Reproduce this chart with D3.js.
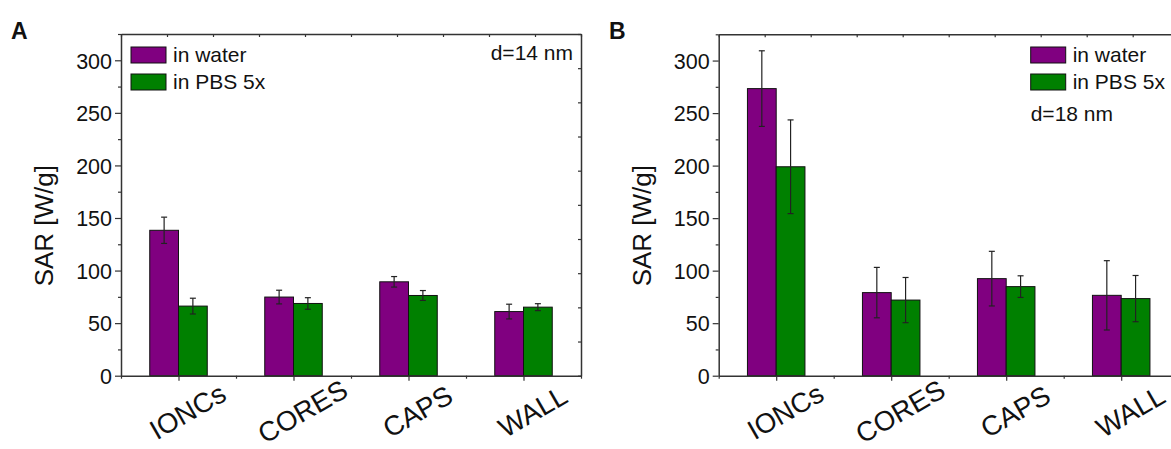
<!DOCTYPE html>
<html>
<head>
<meta charset="utf-8">
<script src="https://cdn.jsdelivr.net/npm/d3@7"></script>
<style>
  body { margin: 0; background: #fff; }
  svg text { font-family: "Liberation Sans", Arial, sans-serif; fill: #111; }
</style>
</head>
<body>
<div id="chart"></div>
<script>
var W = 1171, H = 449;

// data
var categories = ["IONCs", "CORES", "CAPS", "WALL"];
var seriesNames = ["in water", "in PBS 5x"];
var colors = ["#800080", "#008000"];
var yTicks = [0, 50, 100, 150, 200, 250, 300];

// panel A, d=14 nm
var waterA = [138.3, 74.8, 89.3, 61.0];
var waterErrA = [12.5, 6.5, 5.0, 7.0];
var pbsA = [66.2, 68.7, 76.3, 65.2];
var pbsErrA = [7.5, 5.5, 4.7, 3.3];

// panel B, d=18 nm
var waterB = [273.3, 79.1, 92.4, 76.5];
var waterErrB = [36, 24, 26, 33];
var pbsB = [198.9, 72.0, 84.8, 73.4];
var pbsErrB = [44.6, 21.5, 10.3, 22];

var svg = d3.select("#chart").append("svg")
  .attr("width", W)
  .attr("height", H);

function drawPanel(p) {
  var g = svg.append("g");
  var x0 = p.left, x1 = p.left + 460, y0 = p.bottom, y1 = p.top;

  // numeric x: categories at 1..4, frame from 0.5 to 4.5
  var xScale = d3.scaleLinear().domain([0.5, 4.5]).range([x0, x1]);
  var yScale = d3.scaleLinear().domain([0, 325]).range([y0, y1]);

  var rows = categories.map(function(c, i) {
    return [
      { cat: i + 1, s: 0, v: p.water[i], e: p.waterErr[i] },
      { cat: i + 1, s: 1, v: p.pbs[i], e: p.pbsErr[i] }
    ];
  });
  var bars = [].concat.apply([], rows);
  var bw = 0.25;

  g.selectAll("rect.bar")
    .data(bars)
    .enter().append("rect")
      .attr("class", "bar")
      .attr("x", function(d) { return xScale(d.cat - bw + d.s * bw); })
      .attr("width", function() { return xScale(0.5 + bw) - xScale(0.5); })
      .attr("y", function(d) { return yScale(d.v); })
      .attr("height", function(d) { return yScale(0) - yScale(d.v); })
      .style("fill", function(d) { return colors[d.s]; })
      .style("stroke", "#111")
      .style("stroke-width", 1);

  // error bars
  var err = g.selectAll("g.err")
    .data(bars)
    .enter().append("g")
      .attr("class", "err")
      .style("stroke", "#222")
      .style("stroke-width", 1.2);
  err.append("line")
    .attr("x1", function(d) { return xScale(d.cat - bw / 2 + d.s * bw); })
    .attr("x2", function(d) { return xScale(d.cat - bw / 2 + d.s * bw); })
    .attr("y1", function(d) { return yScale(d.v - d.e); })
    .attr("y2", function(d) { return yScale(d.v + d.e); });
  [-1, 1].forEach(function(sgn) {
    err.append("line")
      .attr("x1", function(d) { return xScale(d.cat - bw / 2 + d.s * bw) - 3; })
      .attr("x2", function(d) { return xScale(d.cat - bw / 2 + d.s * bw) + 3; })
      .attr("y1", function(d) { return yScale(d.v + sgn * d.e); })
      .attr("y2", function(d) { return yScale(d.v + sgn * d.e); });
  });

  // left axis, major and minor
  var yAxis = d3.axisLeft(yScale)
    .tickValues(yTicks)
    .tickSize(6)
    .tickPadding(3)
    .tickSizeOuter(0);
  var ya = g.append("g")
    .attr("transform", "translate(" + x0 + ",0)")
    .call(yAxis);
  ya.selectAll("text").style("font-size", "21.5px").attr("dy", "0.36em");
  g.append("g")
    .attr("transform", "translate(" + x0 + ",0)")
    .call(d3.axisLeft(yScale).tickValues([25, 75, 125, 175, 225, 275, 325]).tickSize(3).tickFormat("").tickSizeOuter(0))
    .select(".domain").remove();

  // bottom axis
  g.append("g")
    .attr("transform", "translate(0," + y0 + ")")
    .call(d3.axisBottom(xScale).tickValues([1, 2, 3, 4]).tickSize(5).tickFormat("").tickSizeOuter(0));
  g.append("g")
    .attr("transform", "translate(0," + y0 + ")")
    .call(d3.axisBottom(xScale).tickValues([0.5, 1.5, 2.5, 3.5, 4.5]).tickSize(3).tickFormat("").tickSizeOuter(0))
    .select(".domain").remove();

  // top and right frame with inward ticks
  var frac = d3.range(0, 11).map(function(i) { return i / 10; });
  var xTop = d3.scaleLinear().domain([0, 1]).range([x0, x1]);
  var yRight = d3.scaleLinear().domain([0, 1]).range([y0, y1]);
  g.append("g")
    .attr("transform", "translate(0," + y1 + ")")
    .call(d3.axisBottom(xTop).tickValues(frac).tickSize(3).tickFormat("").tickSizeOuter(0));
  g.append("g")
    .attr("transform", "translate(" + x1 + ",0)")
    .call(d3.axisLeft(yRight).tickValues(frac).tickSize(3).tickFormat("").tickSizeOuter(0));

  g.selectAll(".domain").style("stroke", "#333").style("stroke-width", 1.5);
  g.selectAll(".tick line").style("stroke", "#333").style("stroke-width", 1.2);

  // category labels, rotated
  g.selectAll("text.cat")
    .data(categories)
    .enter().append("text")
      .attr("class", "cat")
      .attr("transform", function(d, i) {
        return "translate(" + (xScale(i + 1) + 9) + "," + (y0 + 35.5) + ") rotate(-30)";
      })
      .attr("text-anchor", "middle")
      .attr("dy", "0.36em")
      .style("font-size", "27.5px")
      .text(function(d) { return d; });

  // y title
  g.append("text")
    .attr("transform", "translate(" + (x0 - 68) + "," + (y0 - 150) + ") rotate(-90)")
    .attr("text-anchor", "middle")
    .style("font-size", "26px")
    .text("SAR [W/g]");

  // panel letter
  g.append("text")
    .attr("x", p.letterX)
    .attr("y", 39)
    .style("font-size", "23px")
    .style("font-weight", "bold")
    .text(p.letter);

  // legend
  var lg = g.append("g");
  seriesNames.forEach(function(name, i) {
    lg.append("rect")
      .attr("x", p.legX)
      .attr("y", 47 + i * 27)
      .attr("width", 35)
      .attr("height", 16)
      .style("fill", colors[i])
      .style("stroke", "#111")
      .style("stroke-width", 1);
    lg.append("text")
      .attr("x", p.legX + 42)
      .attr("y", 62 + i * 27)
      .style("font-size", "21px")
      .text(name);
  });

  g.append("text")
    .attr("x", p.noteX)
    .attr("y", p.noteY)
    .attr("text-anchor", p.noteAnchor)
    .style("font-size", "21px")
    .text(p.note);
}

drawPanel({
  left: 121, top: 34, bottom: 375.7,
  water: waterA, waterErr: waterErrA, pbs: pbsA, pbsErr: pbsErrA,
  letter: "A", letterX: 11,
  legX: 131,
  note: "d=14 nm", noteX: 573, noteY: 60, noteAnchor: "end"
});

drawPanel({
  left: 718.7, top: 34.3, bottom: 375.7,
  water: waterB, waterErr: waterErrB, pbs: pbsB, pbsErr: pbsErrB,
  letter: "B", letterX: 609,
  legX: 1030.7,
  note: "d=18 nm", noteX: 1030.7, noteY: 120.5, noteAnchor: "start"
});
</script>
</body>
</html>
